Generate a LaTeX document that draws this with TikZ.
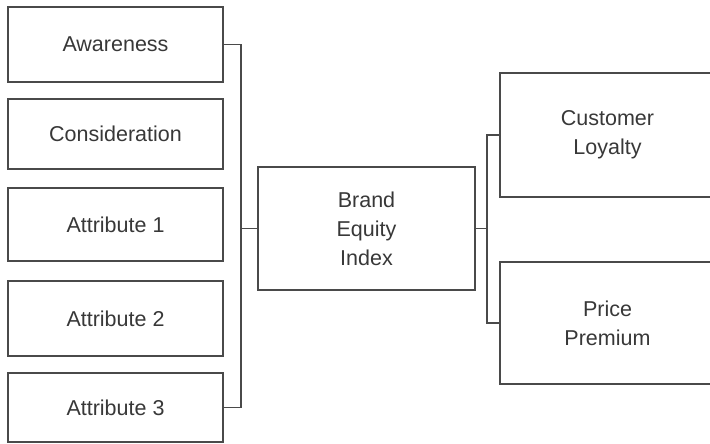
\documentclass[tikz,border=0pt]{standalone}
\usepackage{fontspec}
\setmainfont{Liberation Sans}
\definecolor{txt}{HTML}{383838}
\definecolor{ln}{HTML}{4A4A4A}
\begin{document}
\begin{tikzpicture}[x=1pt,y=-1pt,
  box/.style={draw=ln,line width=1.6pt,fill=white,inner sep=0pt,align=center,
    text=txt,font=\fontsize{21.5}{29}\selectfont},
  wire/.style={draw=ln,line width=1.8pt}]
\useasboundingbox (0,0) rectangle (710,444);
\clip (0,0) rectangle (710,444);
\fill[white] (0,0) rectangle (710,444);
% left boxes
\node[box,minimum width=215pt,minimum height=75pt] (aw) at (115.5,44.5) {Awareness};
\node[box,minimum width=215pt,minimum height=70pt] (con) at (115.5,134) {Consideration};
\node[box,minimum width=215pt,minimum height=73pt] (a1) at (115.5,224.5) {Attribute 1};
\node[box,minimum width=215pt,minimum height=75pt] (a2) at (115.5,318.5) {Attribute 2};
\node[box,minimum width=215pt,minimum height=69pt] (a3) at (115.5,407.5) {Attribute 3};
% centre box
\node[box,minimum width=217pt,minimum height=123pt] (bei) at (366.5,228.5) {Brand\\Equity\\Index};
% right boxes
\node[box,minimum width=215pt,minimum height=124pt] (cl) at (607.5,135) {Customer\\Loyalty};
\node[box,minimum width=215pt,minimum height=122pt] (pp) at (607.5,323) {Price\\Premium};
% buses
\coordinate (lb) at (241,0);
\coordinate (rb) at (487,0);
\draw[wire] (aw.east) -- (aw.east -| lb) -- (a3.east -| lb) -- (a3.east);
\draw[wire] (bei.west) -- (bei.west -| lb);
\draw[wire] (bei.east) -- (bei.east -| rb);
\draw[wire] (cl.west) -- (cl.west -| rb) -- (pp.west -| rb) -- (pp.west);
\end{tikzpicture}
\end{document}
